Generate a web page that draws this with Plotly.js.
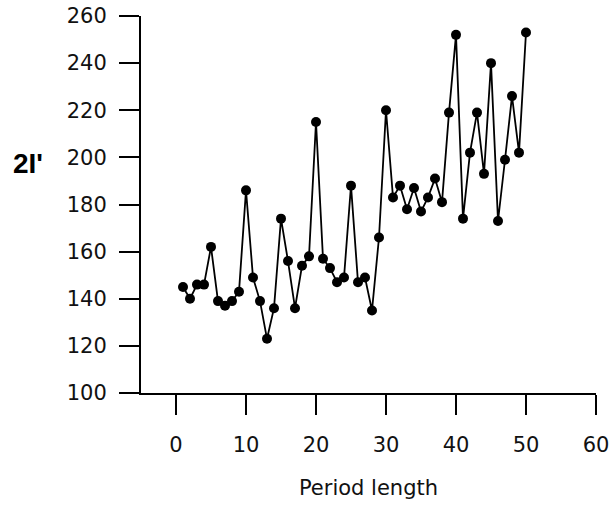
<!DOCTYPE html>
<html>
<head>
<meta charset="utf-8">
<script src="https://cdn.plot.ly/plotly-3.0.1.min.js"></script>
<style>html,body{margin:0;padding:0;background:#fff;}#chart{width:613px;height:506px;}</style>
</head>
<body>
<div id="chart"></div>
<script>
const periodLength = [1,2,3,4,5,6,7,8,9,10,11,12,13,14,15,16,17,18,19,20,21,22,23,24,25,26,27,28,29,30,31,32,33,34,35,36,37,38,39,40,41,42,43,44,45,46,47,48,49,50];
const values2I = [145,140,146,146,162,139,137,139,143,186,149,139,123,136,174,156,136,154,158,215,157,153,147,149,188,147,149,135,166,220,183,188,178,187,177,183,191,181,219,252,174,202,219,193,240,173,199,226,202,253];
const xTicks = [0,10,20,30,40,50,60];
const yTicks = [100,120,140,160,180,200,220,240,260];
const xTitle = 'Period length';
const yTitle = "2I'";

const fontFam = 'DejaVu Sans, sans-serif';
const trace = {
  x: periodLength, y: values2I,
  type: 'scatter', mode: 'lines+markers',
  line: {color: '#000', width: 1.8},
  marker: {color: '#000', size: 10, symbol: 'circle'},
  hoverinfo: 'skip'
};
const axisCommon = {
  showline: true, linecolor: '#000', linewidth: 2,
  ticks: 'outside', ticklen: 20, tickwidth: 2, tickcolor: '#000',
  showgrid: false, zeroline: false, automargin: false,
  tickfont: {family: fontFam, size: 21, color: '#111'}
};
const layout = {
  width: 613, height: 506,
  margin: {l: 141, r: 17, t: 16, b: 113},
  paper_bgcolor: '#fff', plot_bgcolor: '#fff',
  showlegend: false,
  xaxis: Object.assign({}, axisCommon, {
    range: [-5, 60], tickvals: xTicks, ticktext: xTicks.map(String),
    ticklabelstandoff: 12,
    title: {text: xTitle, font: {family: fontFam, size: 21, color: '#111'}, standoff: 24}
  }),
  yaxis: Object.assign({}, axisCommon, {
    range: [100, 260], tickvals: yTicks, ticktext: yTicks.map(String),
    ticklabelstandoff: 8
  }),
  annotations: [{
    text: yTitle, xref: 'paper', yref: 'paper', x: -0.248, y: 0.61,
    xanchor: 'center', yanchor: 'middle', showarrow: false,
    font: {family: 'Liberation Sans, Arial, sans-serif', size: 28, color: '#000', weight: 'bold'}
  }]
};
Plotly.newPlot('chart', [trace], layout, {displayModeBar: false, staticPlot: true});
</script>
</body>
</html>
